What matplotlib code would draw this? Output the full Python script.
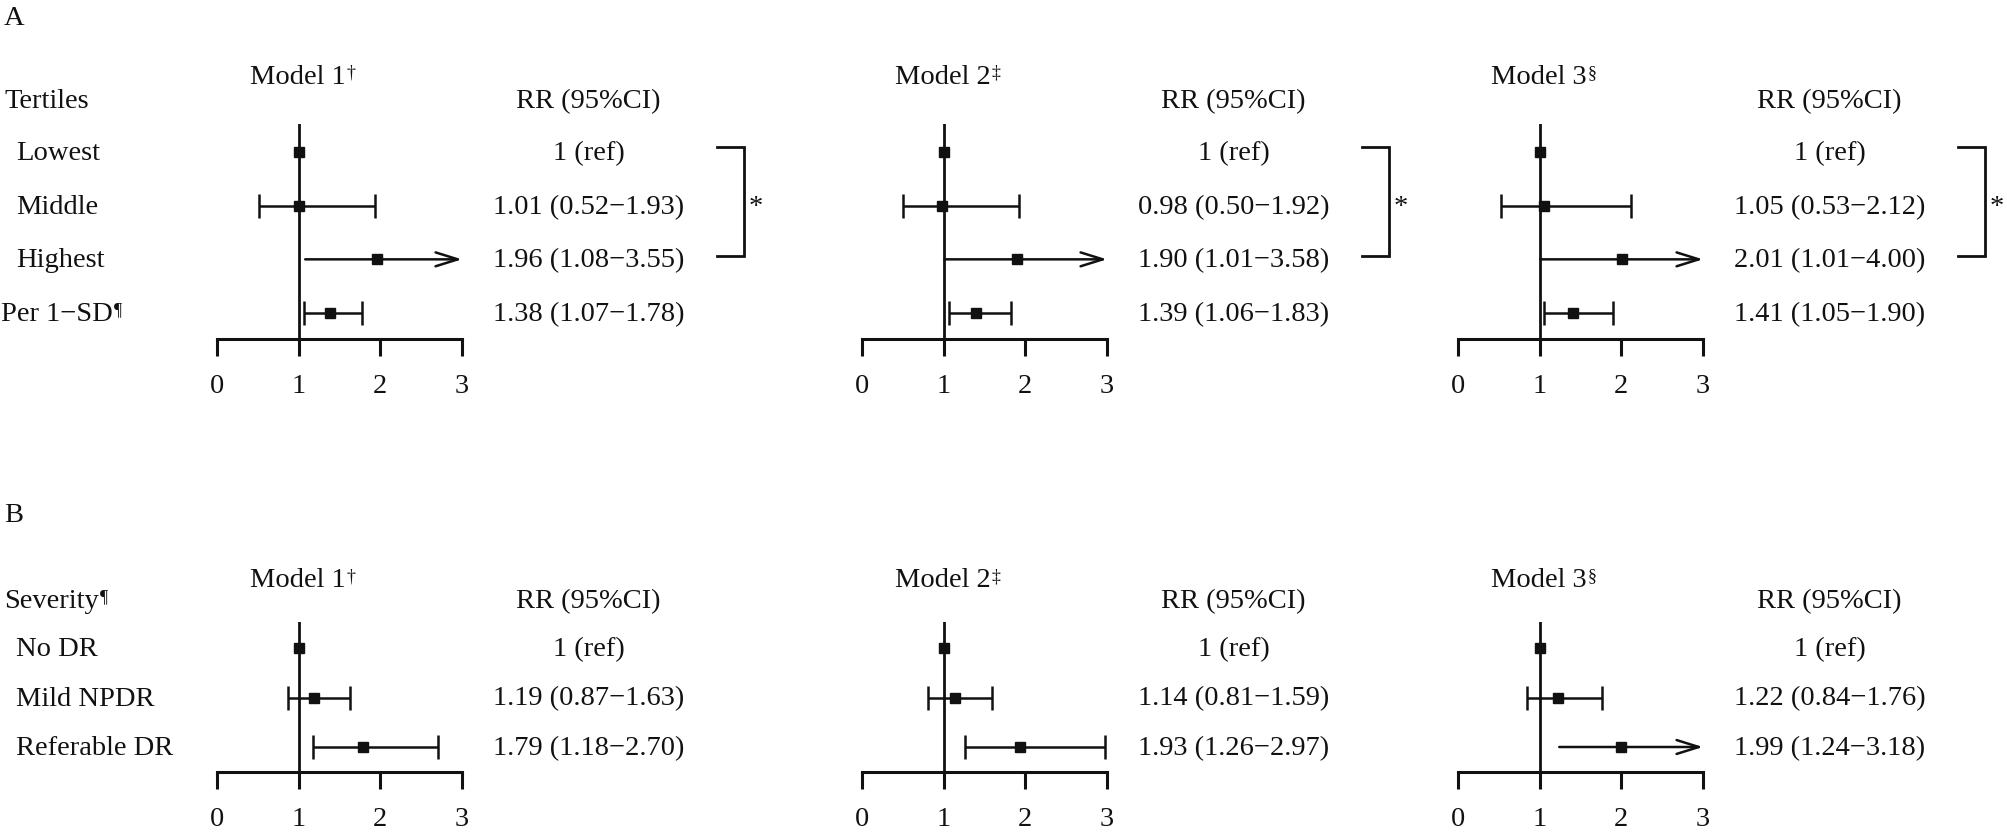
import numpy as np
import matplotlib
matplotlib.use('Agg')
import matplotlib.pyplot as plt
from matplotlib.transforms import offset_copy, blended_transform_factory

plt.rcParams['font.family'] = ['Liberation Serif', 'DejaVu Serif']

# ---- data ----
models = ['Model 1', 'Model 2', 'Model 3']
model_marks = ['\u2020', '\u2021', '\u00a7']

rows_a = ['Lowest', 'Middle', 'Highest', 'Per 1\u2212SD']
est_a = [[1, 1.01, 1.96, 1.38], [1, 0.98, 1.90, 1.39], [1, 1.05, 2.01, 1.41]]
lo_a = [[np.nan, 0.52, 1.08, 1.07], [np.nan, 0.50, 1.01, 1.06], [np.nan, 0.53, 1.01, 1.05]]
hi_a = [[np.nan, 1.93, 3.55, 1.78], [np.nan, 1.92, 3.58, 1.83], [np.nan, 2.12, 4.00, 1.90]]

rows_b = ['No DR', 'Mild NPDR', 'Referable DR']
est_b = [[1, 1.19, 1.79], [1, 1.14, 1.93], [1, 1.22, 1.99]]
lo_b = [[np.nan, 0.87, 1.18], [np.nan, 0.81, 1.26], [np.nan, 0.84, 1.24]]
hi_b = [[np.nan, 1.63, 2.70], [np.nan, 1.59, 2.97], [np.nan, 1.76, 3.18]]

xticks = [0, 1, 2, 3]

# ---- layout (pixels) ----
W, H = 2008, 834
fs = 20.5
ink = '#111111'
col_left = [217, 862, 1458]
col_width = 245

fig = plt.figure(figsize=(W / 100, H / 100), dpi=100)


def sup(ax, txt, mark):
    ax.annotate(mark, xy=(1, 1), xycoords=txt, xytext=(1, 0), textcoords='offset points',
                ha='left', va='top', fontsize=13, color=ink)


def panel(letter, letter_base, title, rows, est, lo, hi, top, bottom, row0, step,
          hdr_base, model_base, title_mark=None, last_mark=None, bracket=False):
    fig.text(4 / W, 1 - letter_base / H, letter, fontsize=fs, color=ink, va='baseline')
    for j in range(3):
        ax = fig.add_axes([col_left[j] / W, 1 - bottom / H, col_width / W, (bottom - top) / H])
        ax.set_xlim(0, 3)
        ax.set_ylim((bottom - row0) / step, -(row0 - top) / step)
        ax.patch.set_visible(False)
        for s in ['top', 'right', 'left']:
            ax.spines[s].set_visible(False)
        ax.spines['bottom'].set_bounds(0, 3)
        ax.spines['bottom'].set_linewidth(2.2)
        ax.spines['bottom'].set_color(ink)
        ax.set_yticks([])
        ax.set_xticks(xticks)
        ax.tick_params(axis='x', direction='out', length=12.5, width=2.2, pad=13,
                       labelsize=fs, colors=ink)
        ax.axvline(1, color=ink, lw=2.0)

        tr = offset_copy(ax.transData, fig=fig, x=0, y=-8, units='dots')
        for i in range(len(rows)):
            e, l, h = est[j][i], lo[j][i], hi[j][i]
            if np.isnan(l):
                ax.plot(e, i, 's', color=ink, ms=6.5)
                rr = '1 (ref)'
            elif h > 3:
                ax.annotate('', xy=(3, i), xytext=(l, i),
                            arrowprops=dict(arrowstyle='->, head_length=0.8, head_width=0.25',
                                            lw=1.8, color=ink, shrinkA=0, shrinkB=0,
                                            mutation_scale=20))
                ax.plot(e, i, 's', color=ink, ms=6.5)
                rr = f'{e:.2f} ({l:.2f}\u2212{h:.2f})'
            else:
                ax.errorbar(e, i, xerr=[[e - l], [h - e]], fmt='s', color=ink, ms=6.5,
                            elinewidth=1.8, capsize=8.5, capthick=1.8)
                rr = f'{e:.2f} ({l:.2f}\u2212{h:.2f})'
            ax.text(4.55, i, rr, transform=tr, ha='center', va='baseline', fontsize=fs, color=ink)

        ax.text(4.55, hdr_base, 'RR (95%CI)', ha='center', va='baseline', fontsize=fs, color=ink)
        t = ax.text(0.40, model_base, models[j], ha='left', va='baseline', fontsize=fs, color=ink)
        sup(ax, t, model_marks[j])

        if bracket:
            ax.plot([6.12, 6.45, 6.45, 6.12], [-0.09, -0.09, 1.94, 1.94], color=ink, lw=2.0,
                    clip_on=False, solid_joinstyle='miter')
            ax.text(6.6, 1, '*', transform=tr, ha='center', va='baseline', fontsize=fs, color=ink)

        if j == 0:
            trf = blended_transform_factory(fig.transFigure, tr)
            for i, r in enumerate(rows):
                x0 = 1 / W if (last_mark and i == len(rows) - 1) else 16 / W
                t = ax.text(x0, i, r, transform=trf, ha='left', va='baseline', fontsize=fs, color=ink)
                if last_mark and i == len(rows) - 1:
                    sup(ax, t, last_mark)
            trt = blended_transform_factory(fig.transFigure, ax.transData)
            t = ax.text(4 / W, hdr_base, title, transform=trt, ha='left', va='baseline',
                        fontsize=fs, color=ink)
            if title_mark:
                sup(ax, t, title_mark)


panel('A', 25, 'Tertiles', rows_a, est_a, lo_a, hi_a,
      top=124, bottom=339, row0=152, step=53.67, hdr_base=-0.82, model_base=-1.27,
      last_mark='\u00b6', bracket=True)
panel('B', 522, 'Severity', rows_b, est_b, lo_b, hi_b,
      top=622, bottom=772, row0=648, step=49.5, hdr_base=-0.81, model_base=-1.23,
      title_mark='\u00b6')

fig.savefig('out.png', dpi=100)
